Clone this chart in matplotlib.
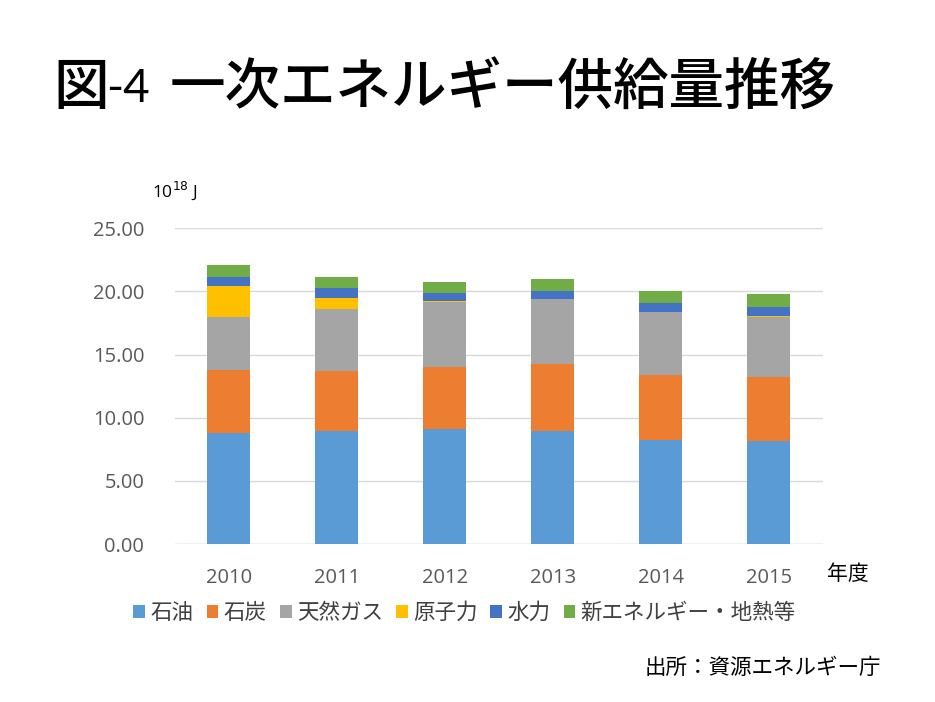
import matplotlib
matplotlib.use("Agg")
import matplotlib.pyplot as plt
import numpy as np

plt.rcParams['font.family'] = ['Noto Sans CJK JP', 'DejaVu Sans']

years = ["2010", "2011", "2012", "2013", "2014", "2015"]
series_names = ["石油", "石炭", "天然ガス", "原子力", "水力", "新エネルギー・地熱等"]
oil = [8.78, 8.96, 9.10, 8.94, 8.23, 8.15]
coal = [4.99, 4.73, 4.88, 5.32, 5.14, 5.09]
gas = [4.19, 4.88, 5.14, 5.10, 5.01, 4.76]
nuclear = [2.45, 0.92, 0.10, 0.00, 0.00, 0.06]
hydro = [0.74, 0.74, 0.66, 0.64, 0.71, 0.71]
new_energy = [0.92, 0.92, 0.85, 0.94, 0.91, 0.98]
colors = ["#5B9BD5", "#ED7D31", "#A5A5A5", "#FFC000", "#4472C4", "#70AD47"]
yticks = [0, 5, 10, 15, 20, 25]

fig = plt.figure(figsize=(9.35, 7.02), dpi=100)
ax = fig.add_axes([0.187, 0.225, 0.693, 0.450])

x = np.arange(len(years))
bottom = np.zeros(len(years))
for name, vals, c in zip(series_names, [oil, coal, gas, nuclear, hydro, new_energy], colors):
    ax.bar(x, vals, 0.4, bottom=bottom, color=c, label=name, zorder=3)
    bottom += np.array(vals)

ax.set_xlim(-0.5, len(years) - 0.5)
ax.set_ylim(0, 25)
ax.set_yticks(yticks)
ax.set_yticklabels([f"{v:.2f}" for v in yticks])
ax.set_xticks(x)
ax.set_xticklabels(years)
ax.tick_params(axis='both', length=0, labelsize=14.5, colors="#595959")
ax.tick_params(axis='x', pad=17)
ax.tick_params(axis='y', pad=22)
for lab in ax.get_xticklabels() + ax.get_yticklabels():
    lab.set_family(['Open Sans', 'DejaVu Sans'])
ax.grid(axis='y', color="#D9D9D9", linewidth=1, zorder=0)
for s in ["top", "right", "left", "bottom"]:
    ax.spines[s].set_visible(False)
ax.axhline(0, color="#D9D9D9", linewidth=1, zorder=1)

fig.text(0.057, 0.875, "図", fontsize=40, color="black", va="center", ha="left", fontweight="medium")
fig.text(0.114, 0.873, "-4", fontsize=33, color="black", va="center", ha="left",
         family=['Lato', 'DejaVu Sans'], fontweight="normal")
fig.text(0.181, 0.875, "一次エネルギー供給量推移", fontsize=40, color="black", va="center",
         ha="left", fontweight="medium")

fig.text(0.163, 0.728, r"10$^{18}$ J", fontsize=12.5, color="black", va="center", ha="left",
         family=['Open Sans', 'DejaVu Sans'])
fig.text(0.885, 0.183, "年度", fontsize=15, color="black", va="center", ha="left")

leg = fig.legend(loc="center", bbox_to_anchor=(0.497, 0.127), ncol=6, frameon=False,
                 fontsize=15.5, handlelength=0.55, handleheight=0.55, handletextpad=0.25,
                 columnspacing=0.6)
for t in leg.get_texts():
    t.set_color("#404040")

fig.text(0.942, 0.048, "出所：資源エネルギー庁", fontsize=15.5, color="black", va="center", ha="right")

fig.savefig("out.png", dpi=100)
